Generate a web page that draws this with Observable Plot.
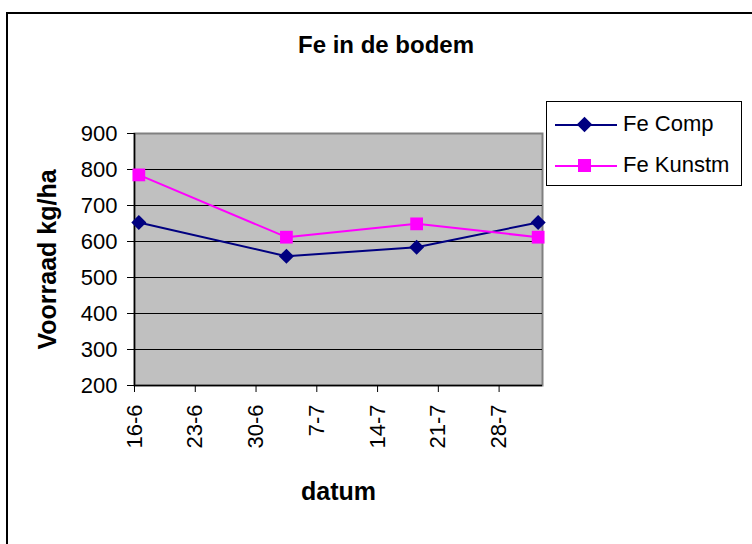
<!DOCTYPE html>
<html>
<head>
<meta charset="utf-8">
<script src="https://cdn.jsdelivr.net/npm/d3@7"></script>
<script src="https://cdn.jsdelivr.net/npm/@observablehq/plot@0.6"></script>
<style>
  html, body { margin: 0; padding: 0; background: #fff; }
  #wrap { position: relative; width: 752px; height: 544px; overflow: hidden; font-family: Arial, "Liberation Sans", sans-serif; }
  #border { position: absolute; left: 6px; top: 12px; width: 800px; height: 600px; border: 2px solid #000; box-sizing: border-box; }
  #title { position: absolute; left: 0; width: 772px; top: 31px; text-align: center; font-weight: bold; font-size: 24px; line-height: 28px; }
  #chart { position: absolute; left: 0; top: 0; }
  #legend { position: absolute; left: 546px; top: 101px; width: 196px; height: 85px; border: 1px solid #000; box-sizing: border-box; background: #fff; }
  .item { position: absolute; left: 8px; height: 20px; }
  .item .ln { position: absolute; left: 0; top: 9px; width: 62px; height: 2px; }
  .item .mk { position: absolute; }
  .item .lb { position: absolute; left: 68px; top: -4px; font-size: 22px; line-height: 26px; white-space: nowrap; }
</style>
</head>
<body>
<div id="wrap">
  <div id="border"></div>
  <div id="chart"></div>
  <div id="title">Fe in de bodem</div>
  <div id="legend"></div>
</div>
<script>
// Data
const dates = ["2005-06-16", "2005-07-03", "2005-07-18", "2005-08-01"];
const feComp = [653, 559, 584, 653];
const feKunstm = [785, 612, 649, 612];
const seriesNames = ["Fe Comp", "Fe Kunstm"];
const seriesColors = ["#000080", "#FF00FF"];
const yTicks = [200, 300, 400, 500, 600, 700, 800, 900];
const xTickDates = ["2005-06-16", "2005-06-23", "2005-06-30", "2005-07-07", "2005-07-14", "2005-07-21", "2005-07-28"];
const xDomain = ["2005-06-16", "2005-08-02"];

// Excel places a dated point in the middle of its day cell
const HALF_DAY = 12 * 3600 * 1000;
const parse = s => new Date(s + "T00:00:00Z");
const mid = s => new Date(parse(s).getTime() + HALF_DAY);

const rowsComp = dates.map((d, i) => ({date: mid(d), value: feComp[i], series: seriesNames[0]}));
const rowsKunstm = dates.map((d, i) => ({date: mid(d), value: feKunstm[i], series: seriesNames[1]}));

const fmt = d => `${d.getUTCDate()}-${d.getUTCMonth() + 1}`;

const chart = Plot.plot({
  width: 752,
  height: 544,
  marginLeft: 134,
  marginRight: 210,
  marginTop: 133,
  marginBottom: 159,
  style: {fontFamily: "Arial, 'Liberation Sans', sans-serif", fontSize: "22px", background: "transparent", color: "#000"},
  x: {type: "utc", domain: xDomain.map(parse)},
  y: {domain: [200, 900]},
  marks: [
    Plot.frame({fill: "#c0c0c0", stroke: "#808080", strokeWidth: 2}),
    Plot.ruleY(yTicks.filter(t => t > 200 && t < 900), {stroke: "#000", strokeWidth: 1}),
    Plot.ruleX([parse(xDomain[0])], {stroke: "#000", strokeWidth: 1.5}),
    Plot.ruleY([200], {stroke: "#000", strokeWidth: 1.5}),
    Plot.axisY({ticks: yTicks, tickSize: 7, tickPadding: 10, tickFormat: d => String(d),
      label: "Voorraad kg/ha", labelAnchor: "center", labelArrow: "none", labelOffset: 96,
      fontSize: 22}),
    Plot.axisX({ticks: xTickDates.map(parse), tickSize: 7, tickPadding: 12, tickFormat: fmt,
      tickRotate: -90, label: "datum", labelAnchor: "center", labelArrow: "none", labelOffset: 114,
      fontSize: 22}),
    Plot.line(rowsComp, {x: "date", y: "value", stroke: seriesColors[0], strokeWidth: 2}),
    Plot.line(rowsKunstm, {x: "date", y: "value", stroke: seriesColors[1], strokeWidth: 2}),
    Plot.dot(rowsComp, {x: "date", y: "value", symbol: "square", r: 6, fill: seriesColors[0], rotate: 45}),
    Plot.dot(rowsKunstm, {x: "date", y: "value", symbol: "square", r: 7.2, fill: seriesColors[1]})
  ]
});
document.getElementById("chart").appendChild(chart);

// Bold axis labels, like the reference
chart.querySelectorAll("[aria-label='y-axis label'] text, [aria-label='x-axis label'] text").forEach(t => {
  t.setAttribute("font-weight", "bold");
  t.setAttribute("font-size", "25");
});

// Legend
const legend = document.getElementById("legend");
seriesNames.forEach((name, i) => {
  const item = document.createElement("div");
  item.className = "item";
  item.style.top = (13 + i * 41) + "px";
  const ln = document.createElement("div");
  ln.className = "ln";
  ln.style.background = seriesColors[i];
  const mk = document.createElement("div");
  mk.className = "mk";
  mk.style.background = seriesColors[i];
  if (i === 0) {
    Object.assign(mk.style, {left: "24px", top: "4px", width: "11px", height: "11px", transform: "rotate(45deg)"});
  } else {
    Object.assign(mk.style, {left: "23px", top: "3px", width: "13px", height: "13px"});
  }
  const lb = document.createElement("div");
  lb.className = "lb";
  lb.textContent = name;
  item.append(ln, mk, lb);
  legend.appendChild(item);
});
</script>
</body>
</html>
